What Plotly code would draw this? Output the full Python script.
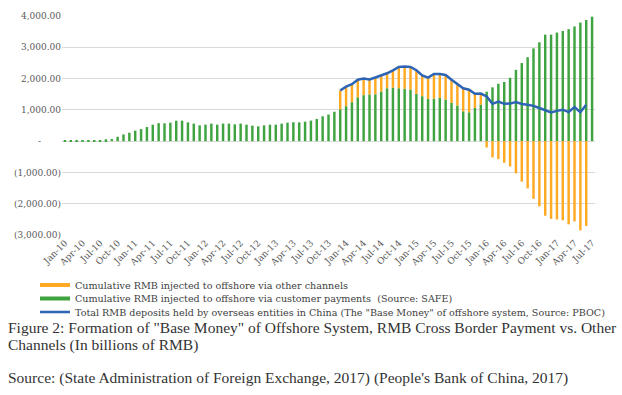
import plotly.graph_objects as go

# ---- data -------------------------------------------------------------
months = ["Jan", "Feb", "Mar", "Apr", "May", "Jun", "Jul", "Aug", "Sep", "Oct", "Nov", "Dec"]
years = ["10", "11", "12", "13", "14", "15", "16", "17"]
categories = [f"{m}-{y}" for y in years for m in months][:91]  # Jan-10 .. Jul-17
tick_labels = categories[::3]

# Cumulative RMB injected to offshore via customer payments (Jan-10 .. Jul-17)
green_vals = [
    20, 20, 20, 20, 20, 20, 20, 60, 65, 140, 215, 270,            # 2010
    335, 385, 450, 525, 575, 570, 590, 655, 655, 600, 560, 505,   # 2011
    527, 560, 527, 560, 560, 537, 560, 527, 495, 473, 505, 527,   # 2012
    527, 560, 590, 605, 600, 624, 656, 710, 795, 850, 940, 1020,  # 2013
    1118, 1245, 1400, 1470, 1492, 1498, 1588, 1690, 1710, 1690, 1675, 1650,  # 2014
    1511, 1436, 1350, 1361, 1383, 1329, 1222, 1136, 954, 922, 1061, 1168,    # 2015
    1580, 1720, 1835, 1890, 2025, 2280, 2495, 2682, 2965, 3160, 3404, 3404,  # 2016
    3470, 3521, 3580, 3665, 3790, 3872, 3979,                               # 2017
]

# Series starting Dec-13 and ending Jun-17
other_categories = categories[47:90]
orange_vals = [
    600,
    622, 575, 565, 530, 480, 538, 507, 480, 551, 680, 710, 720,
    754, 664, 680, 789, 765, 786, 743, 704, 736, 720, 454, 352,
    -202, -521, -575, -692, -810, -1030, -1296, -1510, -1845, -2085, -2384, -2485,
    -2502, -2528, -2660, -2565, -2852, -2710,
]
blue_vals = [
    1620,
    1740, 1820, 1965, 2000, 1972, 2036, 2095, 2170, 2261, 2370, 2385, 2370,
    2265, 2100, 2030, 2150, 2148, 2115, 1965, 1840, 1690, 1642, 1515, 1520,
    1430, 1192, 1265, 1192, 1200, 1250, 1190, 1165, 1128, 1060, 990, 920,
    968, 1005, 930, 1090, 925, 1165,
]

y_ticks = [-3000, -2000, -1000, 0, 1000, 2000, 3000, 4000]
y_tick_text = ["(3,000.00)", "(2,000.00)", "(1,000.00)", "-\u00a0\u00a0\u00a0\u00a0\u00a0\u00a0\u00a0",
               "1,000.00", "2,000.00", "3,000.00", "4,000.00"]

name_orange = "Cumulative RMB injected to offshore via other channels"
name_green = "Cumulative RMB injected to offshore via customer payments  (Source: SAFE)"
name_blue = "Total RMB deposits held by overseas entities in China (The \"Base Money\" of offshore system, Source: PBOC)"

ORANGE = "#FFAA22"
GREEN = "#3FA33F"
BLUE = "#2D64B4"
AXFONT = "DejaVu Serif"
CAPFONT = "Liberation Serif"

fig = go.Figure()
fig.add_trace(go.Bar(x=categories, y=green_vals, marker=dict(color=GREEN, line=dict(width=0)),
                     showlegend=False, name=name_green))
fig.add_trace(go.Bar(x=other_categories, y=orange_vals, marker=dict(color=ORANGE, line=dict(width=0)),
                     showlegend=False, name=name_orange))
fig.add_trace(go.Scatter(x=other_categories, y=blue_vals, mode="lines",
                         line=dict(color=BLUE, width=2.5), name=name_blue, legend="legend3"))
# legend-only entries (line style symbols like the reference)
fig.add_trace(go.Scatter(x=[None], y=[None], mode="lines", line=dict(color=ORANGE, width=4),
                         name=name_orange, legend="legend"))
fig.add_trace(go.Scatter(x=[None], y=[None], mode="lines", line=dict(color=GREEN, width=4),
                         name=name_green, legend="legend2"))

leg_common = dict(xref="container", yref="container", xanchor="left", yanchor="middle",
                  font=dict(family=AXFONT, size=9.6, color="#404040"), bgcolor="rgba(0,0,0,0)",
                  borderwidth=0, itemclick=False)
W, H = 622, 395
fig.update_layout(
    width=W, height=H,
    margin=dict(l=62, r=27, t=16, b=160, autoexpand=False),
    paper_bgcolor="white", plot_bgcolor="white",
    barmode="relative", bargap=0.58,
    legend=dict(x=35 / W, y=1 - 285 / H, **leg_common),
    legend2=dict(x=35 / W, y=1 - 298.5 / H, **leg_common),
    legend3=dict(x=35 / W, y=1 - 312 / H, **leg_common),
    xaxis=dict(type="category", categoryorder="array", categoryarray=categories,
               tickmode="array", tickvals=tick_labels, ticktext=tick_labels,
               tickangle=-45, tickfont=dict(family=AXFONT, size=9, color="#595959"),
               showgrid=False, ticks="", showline=False, zeroline=False, automargin=False,
               range=[-0.5, 90.5]),
    yaxis=dict(range=[-3000, 4000], tickmode="array", tickvals=y_ticks, ticktext=y_tick_text,
               tickfont=dict(family=AXFONT, size=9, color="#595959"),
               showgrid=True, gridcolor="#D9D9D9", gridwidth=1,
               zeroline=True, zerolinecolor="#D9D9D9", zerolinewidth=1,
               ticks="", showline=False, automargin=False),
)

cap_font = dict(family=CAPFONT, size=15.5, color="#333333")
def py(px):
    return (235 - px) / 219.0
xcap = (6 - 62) / 533.0
fig.add_annotation(text="Figure 2: Formation of \"Base Money\" of Offshore System, RMB Cross Border Payment vs. Other",
                   xref="paper", yref="paper", x=xcap, y=py(327), xanchor="left", yanchor="middle",
                   showarrow=False, font=cap_font)
fig.add_annotation(text="Channels (In billions of RMB)",
                   xref="paper", yref="paper", x=xcap, y=py(345), xanchor="left", yanchor="middle",
                   showarrow=False, font=cap_font)
fig.add_annotation(text="Source: (State Administration of Foreign Exchange, 2017) (People's Bank of China, 2017)",
                   xref="paper", yref="paper", x=xcap, y=py(377.5), xanchor="left", yanchor="middle",
                   showarrow=False, font=cap_font)

fig.write_html("out.html", config={"displayModeBar": False},
               post_script="document.body.style.margin='0';document.body.style.overflow='hidden';")
